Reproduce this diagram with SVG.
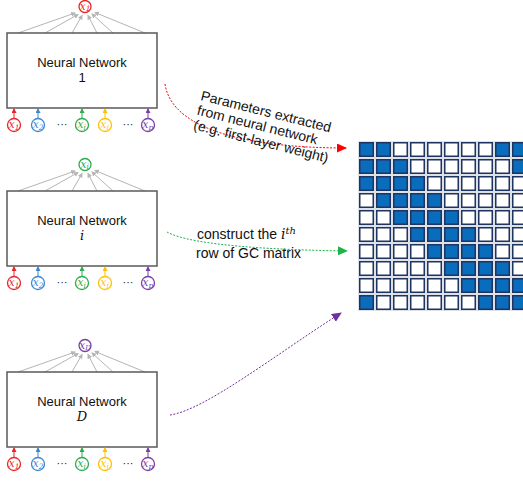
<svg xmlns="http://www.w3.org/2000/svg" width="523" height="481" viewBox="0 0 523 481">
<style>
.box{fill:#fff;stroke:#595959;stroke-width:1.5}
.nn{font-family:"Liberation Sans",Arial,sans-serif;font-size:13px;fill:#111;text-anchor:middle}
.mth{font-family:"DejaVu Serif","Liberation Serif",serif;font-style:italic}
.gl{stroke:#b5b5b5;stroke-width:1;marker-end:url(#mg)}
.circ{fill:#fff;stroke-width:1.3}
.lab{font-family:"DejaVu Serif","Liberation Serif",serif;font-style:italic;font-size:10.5px}
.dots{font-family:"Liberation Sans",Arial,sans-serif;font-size:11px;fill:#222;text-anchor:middle}
.b{fill:#0a6cbc;stroke:#1e3561;stroke-width:1.5}
.w{fill:#fff;stroke:#1e3561;stroke-width:1.5}
.t{font-family:"Liberation Sans",Arial,sans-serif;font-size:14px;fill:#111}
</style>
<defs>
<marker id="mg" markerUnits="userSpaceOnUse" markerWidth="6" markerHeight="6" refX="4" refY="2.5" orient="auto"><path d="M0,0L5,2.5L0,5z" fill="#b5b5b5"/></marker>
<marker id="mr1" markerUnits="userSpaceOnUse" markerWidth="6" markerHeight="6" refX="4" refY="2.5" orient="auto"><path d="M0,0L5,2.5L0,5z" fill="#e8262a"/></marker>
<marker id="mb1" markerUnits="userSpaceOnUse" markerWidth="6" markerHeight="6" refX="4" refY="2.5" orient="auto"><path d="M0,0L5,2.5L0,5z" fill="#3a87d0"/></marker>
<marker id="mgr1" markerUnits="userSpaceOnUse" markerWidth="6" markerHeight="6" refX="4" refY="2.5" orient="auto"><path d="M0,0L5,2.5L0,5z" fill="#2eab4e"/></marker>
<marker id="my1" markerUnits="userSpaceOnUse" markerWidth="6" markerHeight="6" refX="4" refY="2.5" orient="auto"><path d="M0,0L5,2.5L0,5z" fill="#ffc000"/></marker>
<marker id="mp1" markerUnits="userSpaceOnUse" markerWidth="6" markerHeight="6" refX="4" refY="2.5" orient="auto"><path d="M0,0L5,2.5L0,5z" fill="#7a3fa8"/></marker>
<marker id="ar" markerUnits="userSpaceOnUse" markerWidth="12" markerHeight="10" refX="9" refY="4.5" orient="auto"><path d="M0,0L10,4.5L0,9z" fill="#ff0000"/></marker>
<marker id="ag" markerUnits="userSpaceOnUse" markerWidth="12" markerHeight="10" refX="9" refY="4.5" orient="auto"><path d="M0,0L10,4.5L0,9z" fill="#1db34a"/></marker>
<marker id="ap" markerUnits="userSpaceOnUse" markerWidth="12" markerHeight="10" refX="9" refY="4.5" orient="auto"><path d="M0,0L10,4.5L0,9z" fill="#7030a0"/></marker>
<g id="inputs">
<line x1="14" y1="118.5" x2="14" y2="109" stroke="#e8262a" marker-end="url(#mr1)"/>
<line x1="38" y1="118.5" x2="38" y2="109" stroke="#3a87d0" marker-end="url(#mb1)"/>
<line x1="82" y1="118.5" x2="82" y2="109" stroke="#2eab4e" marker-end="url(#mgr1)"/>
<line x1="105" y1="118.5" x2="105" y2="109" stroke="#ffc000" marker-end="url(#my1)"/>
<line x1="148" y1="118.5" x2="148" y2="109" stroke="#7a3fa8" marker-end="url(#mp1)"/>
<circle class="circ" cx="14" cy="125" r="6.5" stroke="#e8262a"/>
<text class="lab" x="8.8" y="128" fill="#e8262a">x<tspan font-size="7.5" dy="1.5">1</tspan></text>
<circle class="circ" cx="38" cy="125" r="6.5" stroke="#3a87d0"/>
<text class="lab" x="32.8" y="128" fill="#3a87d0">x<tspan font-size="7.5" dy="1.5">2</tspan></text>
<text class="dots" x="62" y="128">···</text>
<circle class="circ" cx="82" cy="125" r="6.5" stroke="#2eab4e"/>
<text class="lab" x="77.5" y="128" fill="#2eab4e">x<tspan font-size="7.5" dy="1.5">i</tspan></text>
<circle class="circ" cx="105" cy="125" r="6.5" stroke="#ffc000"/>
<text class="lab" x="100.5" y="128" fill="#ffc000">x<tspan font-size="7.5" dy="1.5">j</tspan></text>
<text class="dots" x="128" y="128">···</text>
<circle class="circ" cx="148" cy="125" r="6.5" stroke="#7a3fa8"/>
<text class="lab" x="142.5" y="128" fill="#7a3fa8">x<tspan font-size="7.5" dy="1.5">p</tspan></text>
</g>
<g id="outs">
<line class="gl" x1="18" y1="33" x2="75" y2="13"/>
<line class="gl" x1="45" y1="33" x2="78" y2="14.5"/>
<line class="gl" x1="72" y1="33" x2="82" y2="15.5"/>
<line class="gl" x1="97" y1="33" x2="88" y2="15.5"/>
<line class="gl" x1="113" y1="33" x2="92" y2="14"/>
<line class="gl" x1="145" y1="33" x2="95" y2="12.5"/>
</g>
</defs>
<g id="nn1">
<use href="#outs"/>
<rect class="box" x="7" y="33" width="150" height="75"/>
<text class="nn" x="82" y="67">Neural Network</text>
<text class="nn" x="82" y="82">1</text>
<circle class="circ" cx="85" cy="6.5" r="6" stroke="#e8262a"/>
<text class="lab" x="79.8" y="9.5" fill="#e8262a">x<tspan font-size="7.5" dy="1.5">1</tspan></text>
<use href="#inputs"/>
</g>
<g id="nni" transform="translate(0,158)">
<use href="#outs"/>
<rect class="box" x="7" y="33" width="150" height="75"/>
<text class="nn" x="82" y="67">Neural Network</text>
<text class="nn mth" x="82" y="82">i</text>
<circle class="circ" cx="85" cy="6.5" r="6" stroke="#2eab4e"/>
<text class="lab" x="80.5" y="9.5" fill="#2eab4e">x<tspan font-size="7.5" dy="1.5">i</tspan></text>
<use href="#inputs"/>
</g>
<g id="nnD" transform="translate(0,339)">
<use href="#outs"/>
<rect class="box" x="7" y="33" width="150" height="75"/>
<text class="nn" x="82" y="67">Neural Network</text>
<text class="nn mth" x="82" y="82">D</text>
<circle class="circ" cx="85" cy="6.5" r="6" stroke="#7a3fa8"/>
<text class="lab" x="79.3" y="9.5" fill="#7a3fa8">x<tspan font-size="7" dy="1.5">D</tspan></text>
<use href="#inputs"/>
</g>
<g id="connectors" fill="none" stroke-width="1" stroke-dasharray="2 1.5">
<path d="M165,84 C172,132 255,148 346,148" stroke="#ff0000" marker-end="url(#ar)"/>
<path d="M167,232 C192,246 280,250 347,251" stroke="#1db34a" marker-end="url(#ag)"/>
<path d="M170,415 C205,410 275,355 341,313" stroke="#7030a0" marker-end="url(#ap)"/>
</g>
<g id="label1" transform="translate(200,100) rotate(14)">
<text class="t" x="0" y="0">Parameters extracted</text>
<text class="t" x="0" y="15">from neural network</text>
<text class="t" x="0" y="30">(e.g. first-layer weight)</text>
</g>
<g id="label2">
<text class="t" x="197" y="239">construct the <tspan class="mth" font-size="14">i</tspan><tspan class="mth" font-size="10" dy="-5">th</tspan></text>
<text class="t" x="196" y="258">row of GC matrix</text>
</g>
<g id="matrix">
<rect x="358" y="141" width="170" height="170" fill="#dde0e7"/>
<rect class="b" x="359.75" y="142.75" width="13.5" height="13.5"/><rect class="b" x="376.75" y="142.75" width="13.5" height="13.5"/><rect class="w" x="393.75" y="142.75" width="13.5" height="13.5"/><rect class="w" x="410.75" y="142.75" width="13.5" height="13.5"/><rect class="w" x="427.75" y="142.75" width="13.5" height="13.5"/><rect class="w" x="444.75" y="142.75" width="13.5" height="13.5"/><rect class="w" x="461.75" y="142.75" width="13.5" height="13.5"/><rect class="w" x="478.75" y="142.75" width="13.5" height="13.5"/><rect class="b" x="495.75" y="142.75" width="13.5" height="13.5"/><rect class="b" x="512.75" y="142.75" width="13.5" height="13.5"/>
<rect class="b" x="359.75" y="159.75" width="13.5" height="13.5"/><rect class="b" x="376.75" y="159.75" width="13.5" height="13.5"/><rect class="b" x="393.75" y="159.75" width="13.5" height="13.5"/><rect class="w" x="410.75" y="159.75" width="13.5" height="13.5"/><rect class="w" x="427.75" y="159.75" width="13.5" height="13.5"/><rect class="w" x="444.75" y="159.75" width="13.5" height="13.5"/><rect class="w" x="461.75" y="159.75" width="13.5" height="13.5"/><rect class="w" x="478.75" y="159.75" width="13.5" height="13.5"/><rect class="w" x="495.75" y="159.75" width="13.5" height="13.5"/><rect class="b" x="512.75" y="159.75" width="13.5" height="13.5"/>
<rect class="b" x="359.75" y="176.75" width="13.5" height="13.5"/><rect class="b" x="376.75" y="176.75" width="13.5" height="13.5"/><rect class="b" x="393.75" y="176.75" width="13.5" height="13.5"/><rect class="b" x="410.75" y="176.75" width="13.5" height="13.5"/><rect class="w" x="427.75" y="176.75" width="13.5" height="13.5"/><rect class="w" x="444.75" y="176.75" width="13.5" height="13.5"/><rect class="w" x="461.75" y="176.75" width="13.5" height="13.5"/><rect class="w" x="478.75" y="176.75" width="13.5" height="13.5"/><rect class="w" x="495.75" y="176.75" width="13.5" height="13.5"/><rect class="w" x="512.75" y="176.75" width="13.5" height="13.5"/>
<rect class="w" x="359.75" y="193.75" width="13.5" height="13.5"/><rect class="b" x="376.75" y="193.75" width="13.5" height="13.5"/><rect class="b" x="393.75" y="193.75" width="13.5" height="13.5"/><rect class="b" x="410.75" y="193.75" width="13.5" height="13.5"/><rect class="b" x="427.75" y="193.75" width="13.5" height="13.5"/><rect class="w" x="444.75" y="193.75" width="13.5" height="13.5"/><rect class="w" x="461.75" y="193.75" width="13.5" height="13.5"/><rect class="w" x="478.75" y="193.75" width="13.5" height="13.5"/><rect class="w" x="495.75" y="193.75" width="13.5" height="13.5"/><rect class="w" x="512.75" y="193.75" width="13.5" height="13.5"/>
<rect class="w" x="359.75" y="210.75" width="13.5" height="13.5"/><rect class="w" x="376.75" y="210.75" width="13.5" height="13.5"/><rect class="b" x="393.75" y="210.75" width="13.5" height="13.5"/><rect class="b" x="410.75" y="210.75" width="13.5" height="13.5"/><rect class="b" x="427.75" y="210.75" width="13.5" height="13.5"/><rect class="b" x="444.75" y="210.75" width="13.5" height="13.5"/><rect class="w" x="461.75" y="210.75" width="13.5" height="13.5"/><rect class="w" x="478.75" y="210.75" width="13.5" height="13.5"/><rect class="w" x="495.75" y="210.75" width="13.5" height="13.5"/><rect class="w" x="512.75" y="210.75" width="13.5" height="13.5"/>
<rect class="w" x="359.75" y="227.75" width="13.5" height="13.5"/><rect class="w" x="376.75" y="227.75" width="13.5" height="13.5"/><rect class="w" x="393.75" y="227.75" width="13.5" height="13.5"/><rect class="b" x="410.75" y="227.75" width="13.5" height="13.5"/><rect class="b" x="427.75" y="227.75" width="13.5" height="13.5"/><rect class="b" x="444.75" y="227.75" width="13.5" height="13.5"/><rect class="b" x="461.75" y="227.75" width="13.5" height="13.5"/><rect class="w" x="478.75" y="227.75" width="13.5" height="13.5"/><rect class="w" x="495.75" y="227.75" width="13.5" height="13.5"/><rect class="w" x="512.75" y="227.75" width="13.5" height="13.5"/>
<rect class="w" x="359.75" y="244.75" width="13.5" height="13.5"/><rect class="w" x="376.75" y="244.75" width="13.5" height="13.5"/><rect class="w" x="393.75" y="244.75" width="13.5" height="13.5"/><rect class="w" x="410.75" y="244.75" width="13.5" height="13.5"/><rect class="b" x="427.75" y="244.75" width="13.5" height="13.5"/><rect class="b" x="444.75" y="244.75" width="13.5" height="13.5"/><rect class="b" x="461.75" y="244.75" width="13.5" height="13.5"/><rect class="b" x="478.75" y="244.75" width="13.5" height="13.5"/><rect class="w" x="495.75" y="244.75" width="13.5" height="13.5"/><rect class="w" x="512.75" y="244.75" width="13.5" height="13.5"/>
<rect class="w" x="359.75" y="261.75" width="13.5" height="13.5"/><rect class="w" x="376.75" y="261.75" width="13.5" height="13.5"/><rect class="w" x="393.75" y="261.75" width="13.5" height="13.5"/><rect class="w" x="410.75" y="261.75" width="13.5" height="13.5"/><rect class="w" x="427.75" y="261.75" width="13.5" height="13.5"/><rect class="b" x="444.75" y="261.75" width="13.5" height="13.5"/><rect class="b" x="461.75" y="261.75" width="13.5" height="13.5"/><rect class="b" x="478.75" y="261.75" width="13.5" height="13.5"/><rect class="b" x="495.75" y="261.75" width="13.5" height="13.5"/><rect class="w" x="512.75" y="261.75" width="13.5" height="13.5"/>
<rect class="w" x="359.75" y="278.75" width="13.5" height="13.5"/><rect class="w" x="376.75" y="278.75" width="13.5" height="13.5"/><rect class="w" x="393.75" y="278.75" width="13.5" height="13.5"/><rect class="w" x="410.75" y="278.75" width="13.5" height="13.5"/><rect class="w" x="427.75" y="278.75" width="13.5" height="13.5"/><rect class="w" x="444.75" y="278.75" width="13.5" height="13.5"/><rect class="b" x="461.75" y="278.75" width="13.5" height="13.5"/><rect class="b" x="478.75" y="278.75" width="13.5" height="13.5"/><rect class="b" x="495.75" y="278.75" width="13.5" height="13.5"/><rect class="b" x="512.75" y="278.75" width="13.5" height="13.5"/>
<rect class="b" x="359.75" y="295.75" width="13.5" height="13.5"/><rect class="w" x="376.75" y="295.75" width="13.5" height="13.5"/><rect class="w" x="393.75" y="295.75" width="13.5" height="13.5"/><rect class="w" x="410.75" y="295.75" width="13.5" height="13.5"/><rect class="w" x="427.75" y="295.75" width="13.5" height="13.5"/><rect class="w" x="444.75" y="295.75" width="13.5" height="13.5"/><rect class="w" x="461.75" y="295.75" width="13.5" height="13.5"/><rect class="b" x="478.75" y="295.75" width="13.5" height="13.5"/><rect class="b" x="495.75" y="295.75" width="13.5" height="13.5"/><rect class="b" x="512.75" y="295.75" width="13.5" height="13.5"/>
</g>
</svg>
